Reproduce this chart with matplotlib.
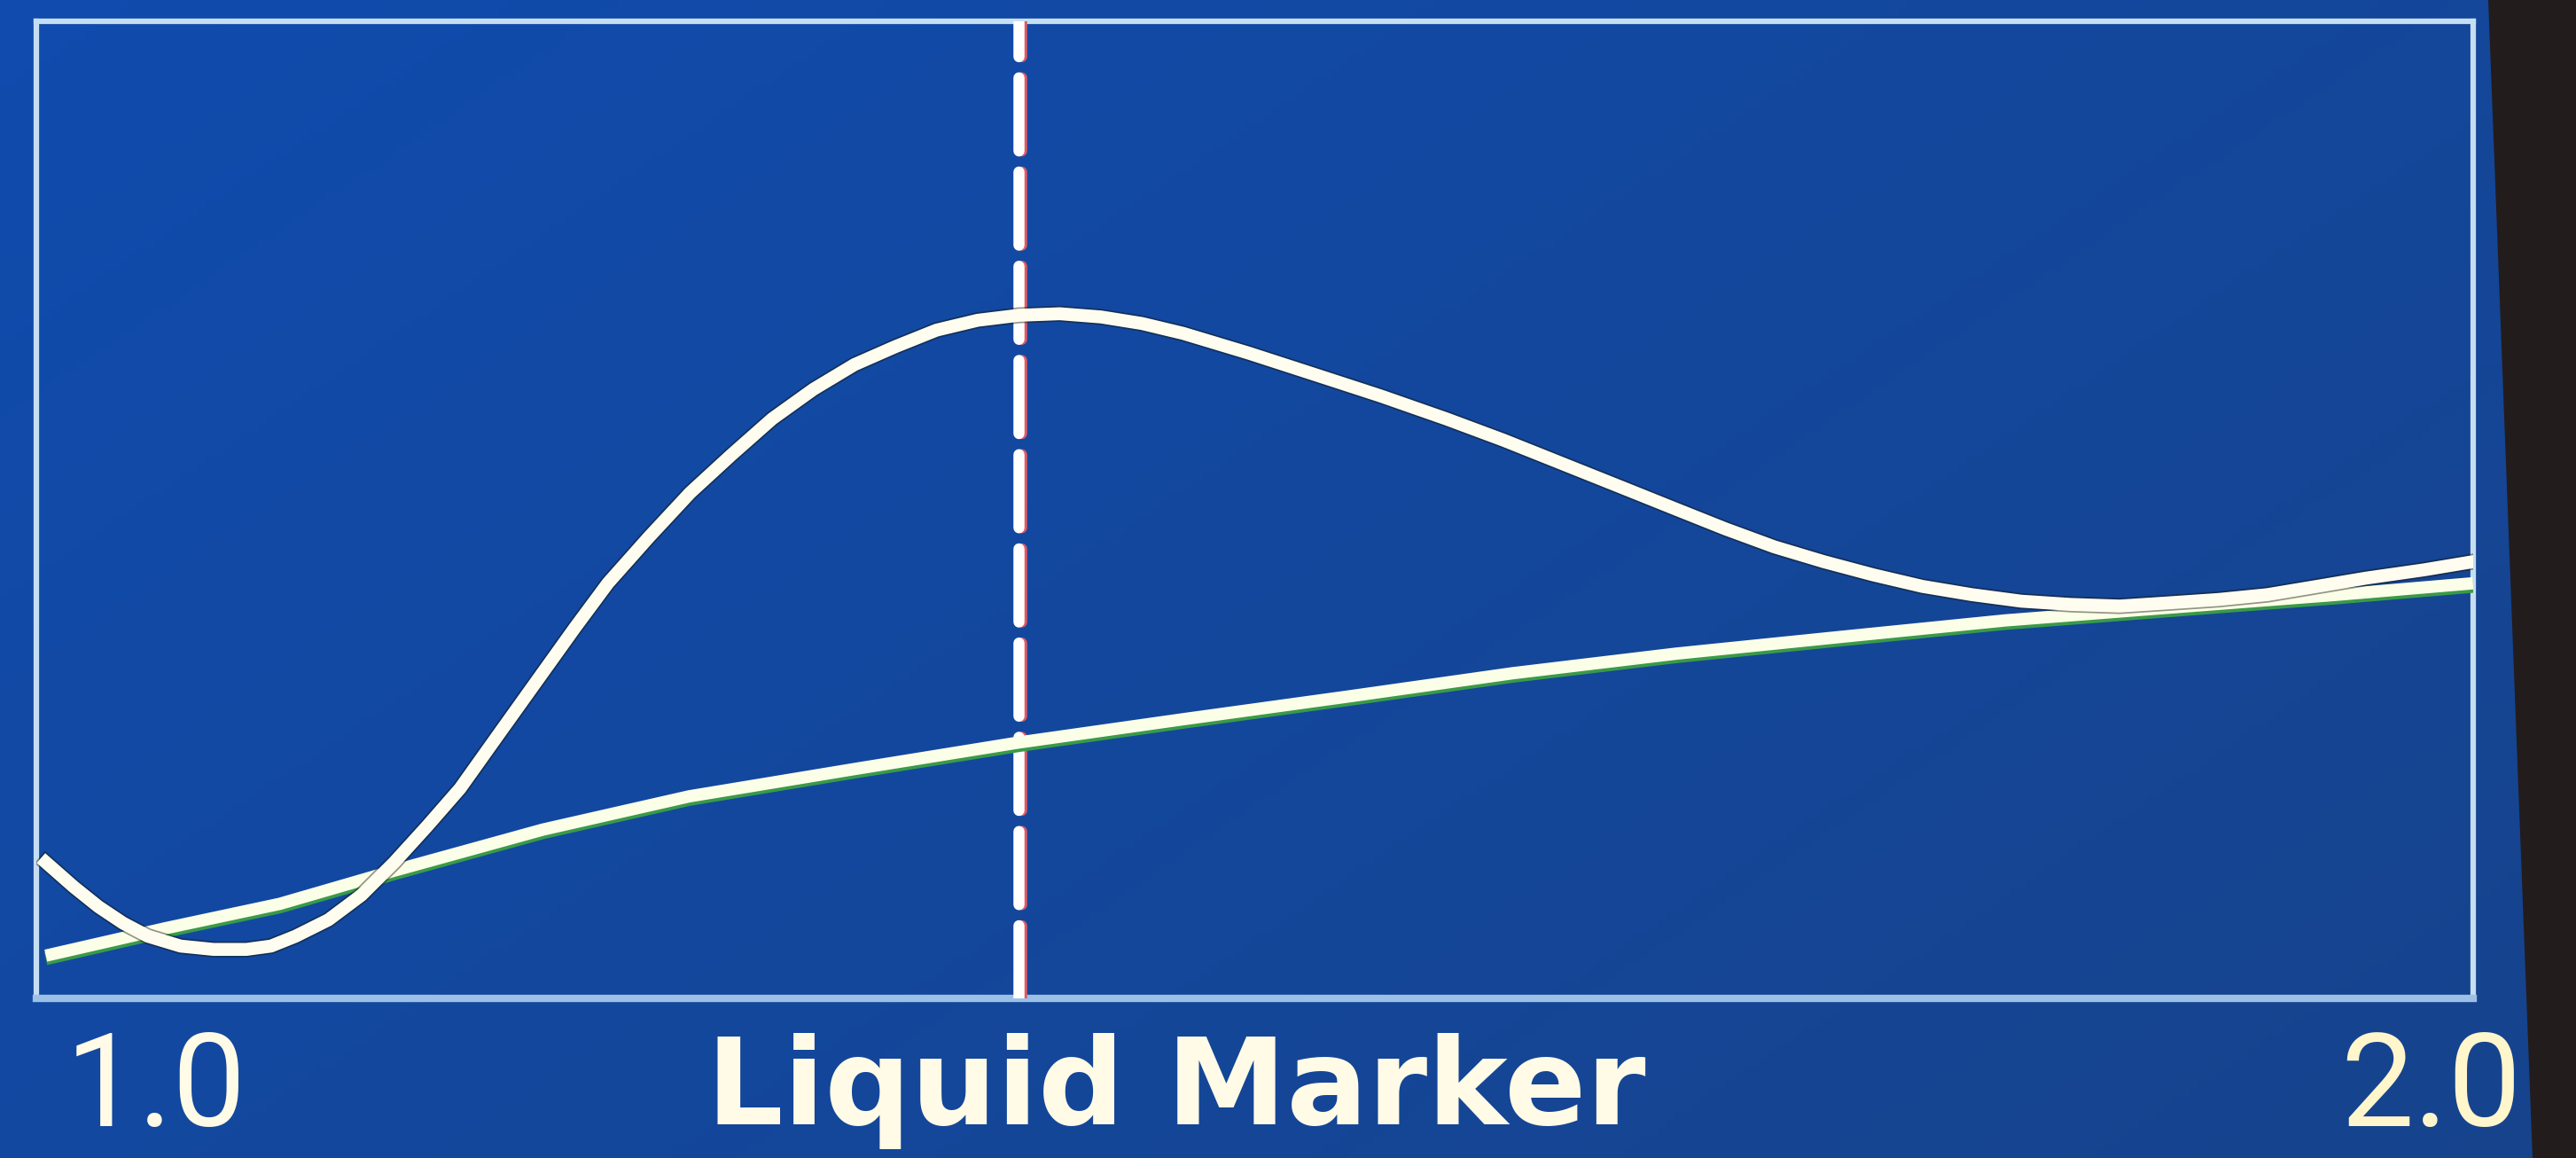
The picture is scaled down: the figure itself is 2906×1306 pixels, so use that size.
import numpy as np
import matplotlib
matplotlib.use("Agg")
import matplotlib.pyplot as plt
from matplotlib.patches import Polygon
import matplotlib.transforms as mtransforms

# ---- data ----
curve_x = [1.0040, 1.0155, 1.0256, 1.0357, 1.0459, 1.0593, 1.0728, 1.0863, 1.0964, 1.1065,
           1.1200, 1.1335, 1.1470, 1.1605, 1.1740, 1.1908, 1.2077, 1.2212, 1.2347, 1.2515,
           1.2684, 1.2853, 1.3021, 1.3190, 1.3358, 1.3527, 1.3695, 1.3864, 1.4032, 1.4201,
           1.4370, 1.4538, 1.4707, 1.4976, 1.5246, 1.5516, 1.5786, 1.6022, 1.6258, 1.6494,
           1.6730, 1.6932, 1.7134, 1.7336, 1.7539, 1.7741, 1.7943, 1.8146, 1.8348, 1.8550,
           1.8753, 1.8955, 1.9157, 1.9359, 1.9562, 1.9798, 2.0000]
curve_y = [13.95, 11.43, 9.41, 7.73, 6.39, 5.38, 5.04, 5.04, 5.38, 6.39,
           8.07, 10.59, 13.95, 17.65, 21.51, 27.39, 33.28, 37.98, 42.52, 47.23,
           51.76, 55.63, 59.33, 62.35, 64.87, 66.72, 68.40, 69.41, 69.92, 70.08,
           69.75, 69.08, 68.07, 66.05, 63.87, 61.68, 59.33, 57.14, 54.79, 52.44,
           50.08, 48.07, 46.22, 44.71, 43.36, 42.18, 41.34, 40.67, 40.34, 40.17,
           40.50, 40.84, 41.34, 42.18, 43.03, 43.87, 44.71]

base_x = [1.004, 1.053, 1.100, 1.147, 1.208, 1.268, 1.336, 1.403, 1.471, 1.538,
          1.606, 1.673, 1.740, 1.808, 1.875, 1.943, 2.000]
base_y = [4.4, 7.2, 9.7, 13.1, 17.3, 20.7, 23.5, 26.2, 28.6, 30.9,
          33.3, 35.3, 37.0, 38.7, 40.0, 41.3, 42.5]

marker_x = 1.403
x_min_label = "1.0"
x_max_label = "2.0"
x_title = "Liquid Marker"

# ---- figure ----
fig = plt.figure(figsize=(29.06, 13.06), dpi=100)
fig.patch.set_facecolor("#1450a5")

# background gradient (screen glow)
bg = fig.add_axes([0, 0, 1, 1], zorder=0)
gx = np.linspace(0, 1, 300)
gy = np.linspace(0, 1, 150)
GX, GY = np.meshgrid(gx, gy)
t = np.clip(0.6 * GX + 0.4 * GY, 0, 1)
c1 = np.array([0x10, 0x4c, 0xae]) / 255.0
c2 = np.array([0x17, 0x43, 0x8c]) / 255.0
img = c1[None, None, :] * (1 - t[..., None]) + c2[None, None, :] * t[..., None]
bg.imshow(img, extent=[0, 1, 0, 1], aspect="auto", origin="upper")
# dark bezel on the right edge
bg.add_patch(Polygon([[0.966, 1.0], [1.0, 1.0], [1.0, 0.0], [0.983, 0.0]],
                     closed=True, facecolor="#231c1c", edgecolor="none"))
bg.set_xlim(0, 1)
bg.set_ylim(0, 1)
bg.axis("off")

ax = fig.add_axes([0.014, 0.1376, 0.946, 0.844], zorder=1)
ax.patch.set_alpha(0)
ax.set_xlim(1.0, 2.0)
ax.set_ylim(0, 100)
ax.set_xticks([])
ax.set_yticks([])
for s in ax.spines.values():
    s.set_color("#c6def2")
    s.set_linewidth(4.5)
ax.spines["bottom"].set_color("#9cc0e6")
ax.spines["bottom"].set_linewidth(6)

# marker (red-edged dashed vertical line)
lw_w = 9.0
dash = (6.6, 1.9)
xtrans = ax.get_xaxis_transform()
shift = mtransforms.ScaledTranslation(2.5 / 72, 0, fig.dpi_scale_trans)
ax.plot([marker_x, marker_x], [0, 1], color="#e25a62", lw=lw_w, linestyle=(0, dash),
        dash_capstyle="round", transform=xtrans + shift, zorder=3)
ax.plot([marker_x, marker_x], [0, 1], color="#ffffff", lw=lw_w, linestyle=(0, dash),
        dash_capstyle="round", transform=xtrans, zorder=4)

# baseline (green-edged)
gshift = mtransforms.ScaledTranslation(0, -2.5 / 72, fig.dpi_scale_trans)
ax.plot(base_x, base_y, color="#3a9a48", lw=10.5, solid_capstyle="butt",
        transform=ax.transData + gshift, zorder=5)
ax.plot(base_x, base_y, color="#fbffe8", lw=10, solid_capstyle="butt", zorder=6)

# main curve (dark-edged white)
ax.plot(curve_x, curve_y, color="#141408", lw=13, alpha=0.45, zorder=7,
        solid_joinstyle="round")
ax.plot(curve_x, curve_y, color="#fffdf0", lw=10.5, zorder=8,
        solid_joinstyle="round")

# labels
txt_color = "#fffbe6"
fig.text(0.0255, 0.058, x_min_label, color=txt_color, fontsize=106,
         family="Roboto", ha="left", va="center")
fig.text(0.4566, 0.058, x_title, color=txt_color, fontsize=98,
         family="DejaVu Sans", fontweight="bold", ha="center", va="center")
fig.text(0.979, 0.058, x_max_label, color="#fff6cc", fontsize=106,
         family="Roboto", ha="right", va="center")

fig.savefig("out.png", dpi=100, facecolor=fig.get_facecolor())
